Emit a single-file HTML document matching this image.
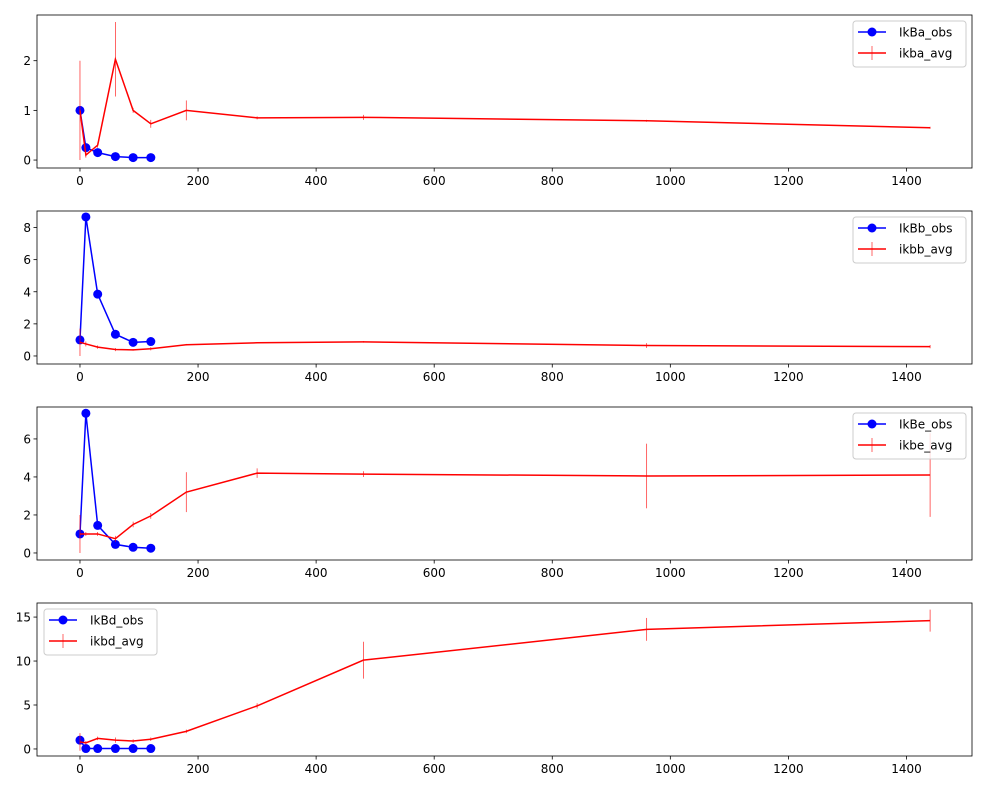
<!DOCTYPE html>
<html><head><meta charset="utf-8"><style>
body{margin:0;background:#fff;}
svg text{font-family:"DejaVu Sans","Liberation Sans",sans-serif;font-size:12px;fill:#000;}
</style></head><body>
<svg id="fig" width="985" height="790" xmlns="http://www.w3.org/2000/svg"></svg>
<script>
const times = [0,10,30,60,90,120,180,300,480,960,1440];
const obsTimes = [0,10,30,60,90,120];
const ikbaObs = [1.0,0.25,0.15,0.07,0.05,0.05];
const ikbaAvg = [1.0,0.1,0.3,2.03,1.0,0.73,1.0,0.85,0.86,0.79,0.65];
const ikbaErr = [1.0,0.05,0.05,0.75,0.05,0.08,0.2,0.03,0.05,0.02,0.02];
const ikbbObs = [1.0,8.66,3.85,1.35,0.85,0.9];
const ikbbAvg = [0.85,0.75,0.55,0.4,0.38,0.45,0.7,0.82,0.88,0.65,0.58];
const ikbbErr = [0.85,0.15,0.1,0.1,0.05,0.1,0.05,0.03,0.05,0.15,0.1];
const ikbeObs = [1.0,7.35,1.45,0.45,0.3,0.25];
const ikbeAvg = [1.0,1.0,1.0,0.75,1.5,1.95,3.2,4.2,4.15,4.05,4.1];
const ikbeErr = [1.0,0.1,0.1,0.15,0.15,0.15,1.05,0.25,0.15,1.7,2.2];
const ikbdObs = [1.0,0.05,0.05,0.05,0.05,0.05];
const ikbdAvg = [0.8,0.7,1.2,1.0,0.9,1.1,2.0,4.9,10.1,13.6,14.6];
const ikbdErr = [1.0,0.2,0.2,0.3,0.2,0.2,0.2,0.3,2.1,1.3,1.25];
const xTicks = [0,200,400,600,800,1000,1200,1400];
const panels = [
 {obs:ikbaObs,avg:ikbaAvg,err:ikbaErr,lo:'IkBa_obs',la:'ikba_avg',top:15,ymin:-0.16,ymax:2.92,yt:[0,1,2],leg:'right'},
 {obs:ikbbObs,avg:ikbbAvg,err:ikbbErr,lo:'IkBb_obs',la:'ikbb_avg',top:211,ymin:-0.5,ymax:9.03,yt:[0,2,4,6,8],leg:'right'},
 {obs:ikbeObs,avg:ikbeAvg,err:ikbeErr,lo:'IkBe_obs',la:'ikbe_avg',top:407,ymin:-0.37,ymax:7.68,yt:[0,2,4,6],leg:'right'},
 {obs:ikbdObs,avg:ikbdAvg,err:ikbdErr,lo:'IkBd_obs',la:'ikbd_avg',top:603,ymin:-0.8,ymax:16.6,yt:[0,5,10,15],leg:'left'}
];
const NS='http://www.w3.org/2000/svg';
const svg=document.getElementById('fig');
function mk(t,a,p){const e=document.createElementNS(NS,t);for(const k in a)e.setAttribute(k,a[k]);(p||svg).appendChild(e);return e;}
const L=37,R=972,H=153,xmin=-72.8,xmax=1511;
const sx=v=>L+(v-xmin)/(xmax-xmin)*(R-L);
panels.forEach((p,i)=>{
 const g=mk('g',{});
 
 
 const sy=v=>p.top+H-(v-p.ymin)/(p.ymax-p.ymin)*H;
 const B=p.top+H;
 xTicks.forEach(t=>{const x=sx(t);mk('line',{x1:x,x2:x,y1:B,y2:B+3.5,stroke:'#000','stroke-width':0.8},g);
  const tx=mk('text',{x:x,y:B+17,'text-anchor':'middle'},g);tx.textContent=t;
  
  });
 p.yt.forEach(t=>{const y=sy(t);mk('line',{x1:L-3.5,x2:L,y1:y,y2:y,stroke:'#000','stroke-width':0.8},g);
  const tx=mk('text',{x:L-6,y:y+4.5,'text-anchor':'end'},g);tx.textContent=t;
  
  });
 const bl=mk('polyline',{points:obsTimes.map((t,j)=>sx(t)+','+sy(p.obs[j])).join(' '),fill:'none',stroke:'#0000ff','stroke-width':1.5},g);
 
 
 obsTimes.forEach((t,j)=>{const c=mk('circle',{cx:sx(t),cy:sy(p.obs[j]),r:4.5,fill:'#0000ff'},g);
  
  });
 const rl=mk('polyline',{points:times.map((t,j)=>sx(t)+','+sy(p.avg[j])).join(' '),fill:'none',stroke:'#ff0000','stroke-width':1.5},g);
 
 
 times.forEach((t,j)=>{const e=mk('line',{x1:sx(t),x2:sx(t),y1:sy(p.avg[j]-p.err[j]),y2:sy(p.avg[j]+p.err[j]),stroke:'#ff0000','stroke-width':0.6},g);
  
  });
 mk('rect',{x:L,y:p.top,width:R-L,height:H,fill:'none',stroke:'#000','stroke-width':0.8},g);
 const lx=p.leg==='right'?853:44, ly=p.top+6;
 const lg=mk('g',{},g);
 
 
 mk('rect',{x:lx,y:ly,width:113,height:46,rx:3,fill:'#fff','fill-opacity':0.8,stroke:'#ccc','stroke-width':1},lg);
 mk('line',{x1:lx+5,x2:lx+33,y1:ly+11,y2:ly+11,stroke:'#0000ff','stroke-width':1.5},lg);
 mk('circle',{cx:lx+19,cy:ly+11,r:4.5,fill:'#0000ff'},lg);
 let t1=mk('text',{x:lx+46,y:ly+15.5},lg);t1.textContent=p.lo;
 mk('line',{x1:lx+5,x2:lx+33,y1:ly+32,y2:ly+32,stroke:'#ff0000','stroke-width':1.5},lg);
 mk('line',{x1:lx+19,x2:lx+19,y1:ly+25,y2:ly+39,stroke:'#ff0000','stroke-width':0.6},lg);
 let t2=mk('text',{x:lx+46,y:ly+36.5},lg);t2.textContent=p.la;
});
</script>
</body></html>
